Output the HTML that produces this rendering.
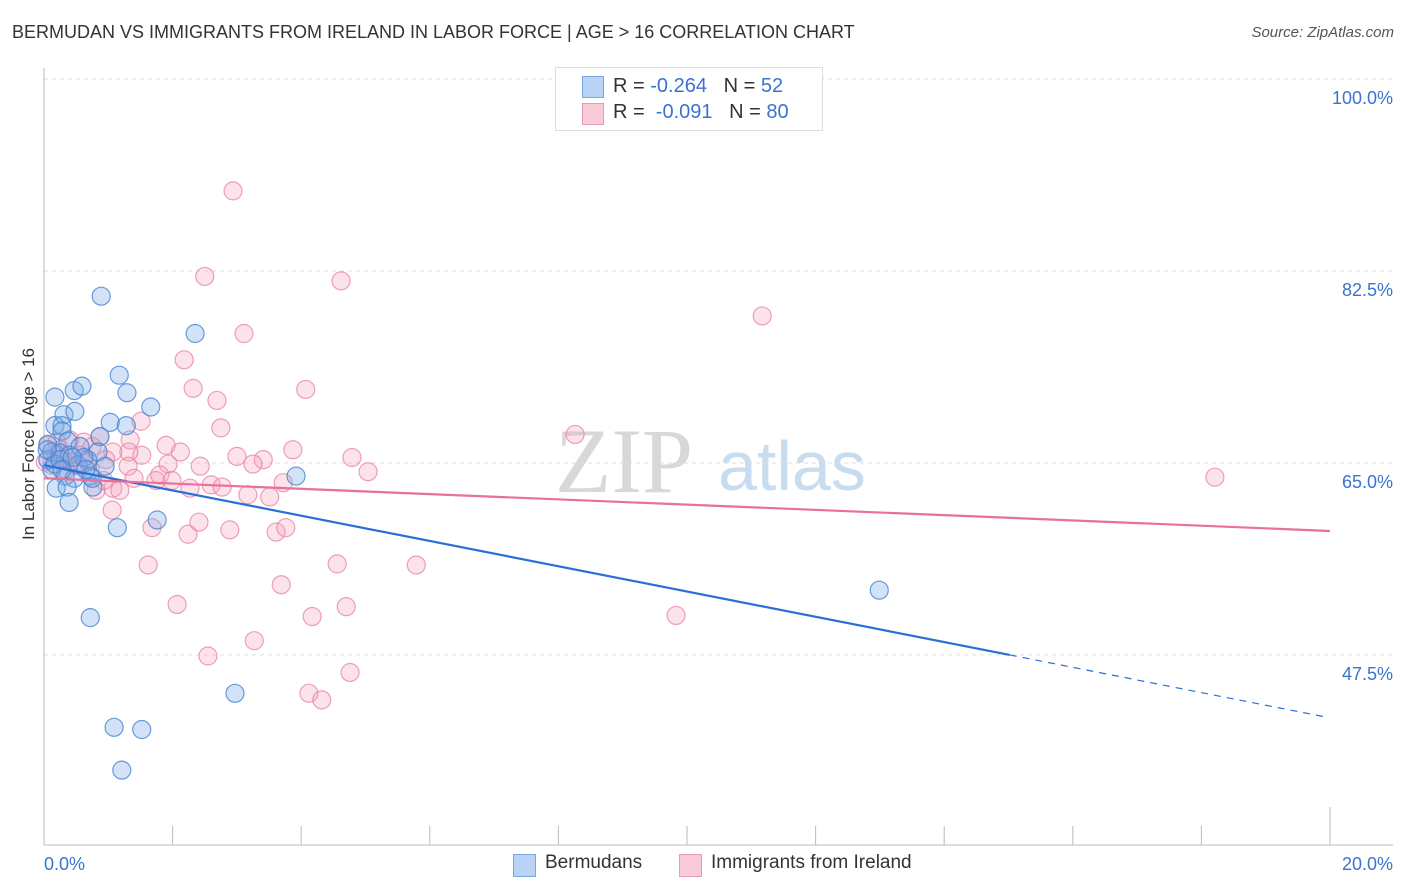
<!DOCTYPE html>
<html><head><meta charset="utf-8"><style>
body{margin:0;background:#fff;font-family:"Liberation Sans",sans-serif;}
#wrap{position:relative;width:1406px;height:892px;overflow:hidden;}
.t{position:absolute;white-space:nowrap;}
</style></head><body>
<div id="wrap">
<div class="t" style="left:12px;top:22px;font-size:18px;color:#333;">BERMUDAN VS IMMIGRANTS FROM IRELAND IN LABOR FORCE | AGE &gt; 16 CORRELATION CHART</div>
<div class="t" style="right:12px;top:24px;font-size:15px;color:#555;font-style:italic;">Source: ZipAtlas.com</div>
<div class="t" style="left:-56px;top:445px;font-size:17px;color:#333;transform:rotate(-90deg);transform-origin:center;width:170px;text-align:center;">In Labor Force | Age &gt; 16</div>
<svg id="svg" width="1406" height="892" style="position:absolute;left:0;top:0;"></svg>
<div style="position:absolute;left:555px;top:67px;width:266px;height:62px;border:1px solid #ddd;background:#fff;font-size:20px;">
 <div style="position:absolute;left:26px;top:8px;width:20px;height:20px;background:#b8d3f5;border:1px solid #7aa7e0;"></div>
 <div class="t" style="left:57px;top:7px;color:#333;">R = <span style="color:#3b73d0">-0.264</span>&nbsp;&nbsp;&nbsp;N = <span style="color:#3b73d0">52</span></div>
 <div style="position:absolute;left:26px;top:35px;width:20px;height:20px;background:#f9cbd8;border:1px solid #ea9ab2;"></div>
 <div class="t" style="left:57px;top:33px;color:#333;">R = <span style="color:#3b73d0">&nbsp;-0.091</span>&nbsp;&nbsp;&nbsp;N = <span style="color:#3b73d0">80</span></div>
</div>
<div style="position:absolute;left:513px;top:852px;font-size:19px;color:#333;">
 <div style="position:absolute;left:0;top:2px;width:21px;height:21px;background:#b8d3f5;border:1px solid #7aa7e0;"></div>
 <div class="t" style="left:32px;top:0;">Bermudans</div>
 <div style="position:absolute;left:166px;top:2px;width:21px;height:21px;background:#f9cbd8;border:1px solid #ea9ab2;"></div>
 <div class="t" style="left:198px;top:0;">Immigrants from Ireland</div>
</div>
</div>
<script>
const xTicks=[0,20];
const yTicks=[100,82.5,65,47.5];
const blueX=[0.89,2.35,1.17,0.17,0.47,0.59,1.29,1.66,0.31,0.48,1.03,1.28,0.17,0.28,0.28,0.87,0.37,0.06,0.12,0.25,0.40,0.56,0.68,0.84,0.95,0.12,0.33,0.47,0.72,0.19,0.36,0.76,0.39,1.14,1.76,3.92,0.72,2.97,1.09,1.52,1.21,12.99,0.06,0.17,0.53,0.62,0.05,0.25,0.44,0.75,0.28,0.65];
const blueY=[80.2,76.8,73.0,71.0,71.6,72.0,71.4,70.1,69.4,69.7,68.7,68.4,68.4,68.4,67.9,67.4,67.0,66.7,66.0,65.9,65.7,66.5,65.3,66.0,64.7,64.4,63.8,63.6,63.8,62.7,62.8,62.8,61.4,59.1,59.8,63.8,50.9,44.0,40.9,40.7,37.0,53.4,65.3,64.9,64.8,65.5,66.2,65.3,65.5,63.6,64.4,64.4];
const pinkX=[2.94,2.50,4.62,11.17,3.11,2.18,2.32,4.07,2.69,1.51,2.75,18.21,8.26,1.90,2.12,3.87,3.00,3.41,3.25,4.79,5.04,2.43,1.93,1.52,1.32,1.07,0.87,0.40,0.62,0.75,0.19,0.30,0.48,0.72,0.96,1.31,1.74,1.80,1.99,2.27,2.60,2.77,3.17,3.51,3.72,1.07,0.81,1.18,1.40,1.06,1.68,2.24,2.41,2.89,3.61,3.76,1.62,4.56,5.79,3.69,2.07,4.17,4.70,9.83,3.27,2.55,4.12,4.32,4.76,0.06,0.12,0.25,0.34,0.56,0.68,0.02,0.40,0.93,0.20,1.34];
const pinkY=[89.8,82.0,81.6,78.4,76.8,74.4,71.8,71.7,70.7,68.8,68.2,63.7,67.6,66.6,66.0,66.2,65.6,65.3,64.9,65.5,64.2,64.7,64.9,65.7,66.0,66.0,67.4,67.1,66.9,66.5,65.7,65.3,64.8,64.4,65.3,64.7,63.4,63.9,63.4,62.7,63.0,62.8,62.1,61.9,63.2,62.7,62.5,62.5,63.6,60.7,59.1,58.5,59.6,58.9,58.7,59.1,55.7,55.8,55.7,53.9,52.1,51.0,51.9,51.1,48.8,47.4,44.0,43.4,45.9,66.6,64.8,66.2,64.4,65.7,65.1,65.1,65.1,63.4,66.9,67.1];
const blueTrend=[64.8,-1.152];
const pinkTrend=[63.6,-0.24];
const sx=v=>44+v*64.3;
const sy=v=>79+(100-v)*10.97;
const svg=document.getElementById('svg');
const NS='http://www.w3.org/2000/svg';
function mk(tag,attrs){const e=document.createElementNS(NS,tag);for(const k in attrs)e.setAttribute(k,attrs[k]);svg.appendChild(e);return e;}
// watermark
let wm=mk('text',{x:555,y:492,'font-size':92,fill:'#d8d8d8','font-family':'Liberation Serif,serif'});wm.textContent='ZIP';


let wm2=mk('text',{x:718,y:490,'font-size':70,fill:'#c8dcf0','font-family':'Liberation Sans,sans-serif'});wm2.textContent='atlas';


yTicks.forEach(v=>{
 const g=mk('line',{x1:44,x2:1393,y1:sy(v),y2:sy(v),stroke:'#ddd','stroke-dasharray':'4,4'});
 
 
 const t=mk('text',{x:1393,y:sy(v)+25,'text-anchor':'end','font-size':18,fill:'#3b73d0','font-family':'Liberation Sans,sans-serif'});
 t.textContent=v.toFixed(1)+'%';
 
 
});
let ax=mk('line',{x1:44,x2:44,y1:68,y2:845,stroke:'#bbb'});


let bx=mk('line',{x1:44,x2:1393,y1:845,y2:845,stroke:'#bbb'});


for(let i=0;i<=10;i++){
 const tk=mk('line',{x1:sx(i*2),x2:sx(i*2),y1:i==10?807:826,y2:845,stroke:'#bbb'});
 
 
}
xTicks.forEach((v,i)=>{
 const t=mk('text',{x:i==0?sx(v):1393,y:870,'text-anchor':i==0?'start':'end','font-size':18,fill:'#3b73d0','font-family':'Liberation Sans,sans-serif'});
 t.textContent=v.toFixed(1)+'%';
 
 
});
pinkX.forEach((x,i)=>{
 const c=mk('circle',{cx:sx(x),cy:sy(pinkY[i]),r:9,fill:'rgba(245,160,185,0.3)',stroke:'rgba(232,130,160,0.75)','stroke-width':1.2});
 
 
});
blueX.forEach((x,i)=>{
 const c=mk('circle',{cx:sx(x),cy:sy(blueY[i]),r:9,fill:'rgba(120,170,230,0.33)',stroke:'rgba(70,130,210,0.8)','stroke-width':1.2});
 
 
});
const bt=x=>blueTrend[0]+blueTrend[1]*x, pt=x=>pinkTrend[0]+pinkTrend[1]*x;
let l1=mk('line',{x1:sx(0),y1:sy(bt(0)),x2:sx(15.02),y2:sy(bt(15.02)),stroke:'#2a6fd6','stroke-width':2.2});


let l2=mk('line',{x1:sx(15.02),y1:sy(bt(15.02)),x2:sx(19.95),y2:sy(bt(19.95)),stroke:'#2a6fd6','stroke-width':1.2,'stroke-dasharray':'7,6'});


let l3=mk('line',{x1:sx(0),y1:sy(pt(0)),x2:sx(20),y2:sy(pt(20)),stroke:'#e8709a','stroke-width':2.2});


</script>
</body></html>
